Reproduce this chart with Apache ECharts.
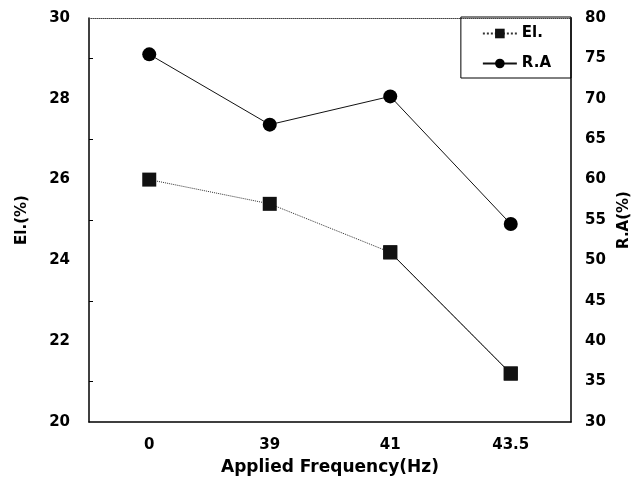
<!DOCTYPE html>
<html>
<head>
<meta charset="utf-8">
<script src="https://cdn.jsdelivr.net/npm/echarts@6/dist/echarts.min.js"></script>
<style>
  html, body { margin: 0; padding: 0; background: #fff; }
  #chart { width: 635px; height: 490px; }
</style>
</head>
<body>
<div id="chart"></div>
<script>
var categories = ["0", "39", "41", "43.5"];
var elValues = [26.0, 25.4, 24.2, 21.2];
var raValues = [75.5, 66.8, 70.3, 54.5];

// the last El. segment is drawn solid in the original
var elTail = elValues.map(function (v, i) {
  return i >= 2 ? v : "-";
});

var font = "DejaVu Sans";
var labelStyle = { color: "#000", fontFamily: font, fontWeight: "bold", fontSize: 15 };
var nameStyle = { color: "#000", fontFamily: font, fontWeight: "bold", fontSize: 15 };

var myChart = echarts.init(document.getElementById("chart"));
var option = {
  animation: false,
  backgroundColor: "#fff",
  grid: { left: 89, right: 64, top: 18, bottom: 68, containLabel: false, outerBoundsMode: "none" },
  legend: {
    data: ["El.", "R.A"],
    orient: "vertical",
    right: 64,
    top: 17,
    borderColor: "#000",
    borderWidth: 1,
    padding: [9, 20, 7, 21],
    itemWidth: 34,
    itemHeight: 12,
    itemGap: 15,
    textStyle: { color: "#000", fontFamily: font, fontWeight: "bold", fontSize: 15 },
  },
  xAxis: [
    {
      type: "category",
      data: categories,
      position: "bottom",
      name: "Applied Frequency(Hz)",
      nameLocation: "middle",
      nameGap: 37,
      nameTextStyle: { color: "#000", fontFamily: font, fontWeight: "bold", fontSize: 17 },
      axisLine: { lineStyle: { color: "#000", width: 1.5 } },
      axisTick: { inside: true, length: 5, lineStyle: { color: "#000" } },
      axisLabel: Object.assign({ margin: 16 }, labelStyle),
      splitLine: { show: false },
    },
    {
      type: "category",
      data: categories,
      position: "top",
      axisLine: { lineStyle: { color: "#444", width: 1, type: "dotted" } },
      axisTick: { show: false },
      axisLabel: { show: false },
    },
  ],
  yAxis: [
    {
      type: "value",
      min: 20,
      max: 30,
      interval: 2,
      name: "El.(%)",
      nameLocation: "middle",
      nameGap: 59,
      nameTextStyle: nameStyle,
      axisLine: { show: true, lineStyle: { color: "#000", width: 1.5 } },
      axisTick: { inside: true, length: 5, lineStyle: { color: "#000" } },
      minorTick: { show: true, splitNumber: 2, length: 4, lineStyle: { color: "#000" } },
      axisLabel: Object.assign({ margin: 19 }, labelStyle),
      splitLine: { show: false },
    },
    {
      type: "value",
      min: 30,
      max: 80,
      interval: 5,
      position: "right",
      name: "R.A(%)",
      nameLocation: "middle",
      nameGap: 46,
      nameTextStyle: nameStyle,
      axisLine: { show: true, lineStyle: { color: "#000", width: 1.5 } },
      axisTick: { inside: true, length: 5, lineStyle: { color: "#000" } },
      axisLabel: Object.assign({ margin: 14 }, labelStyle),
      splitLine: { show: false },
    },
  ],
  series: [
    {
      name: "El.",
      type: "line",
      yAxisIndex: 0,
      data: elValues,
      symbol: "rect",
      symbolSize: 14,
      itemStyle: { color: "#111" },
      lineStyle: { color: "#333", width: 1, type: "dotted" },
      z: 3,
    },
    {
      name: "El. tail",
      type: "line",
      yAxisIndex: 0,
      data: elTail,
      symbol: "rect",
      symbolSize: 14,
      itemStyle: { color: "#111" },
      lineStyle: { color: "#111", width: 1 },
      z: 3,
    },
    {
      name: "R.A",
      type: "line",
      yAxisIndex: 1,
      data: raValues,
      symbol: "circle",
      symbolSize: 14,
      itemStyle: { color: "#000" },
      lineStyle: { color: "#111", width: 1 },
      z: 4,
    },
  ],
};
myChart.setOption(option);
</script>
</body>
</html>
